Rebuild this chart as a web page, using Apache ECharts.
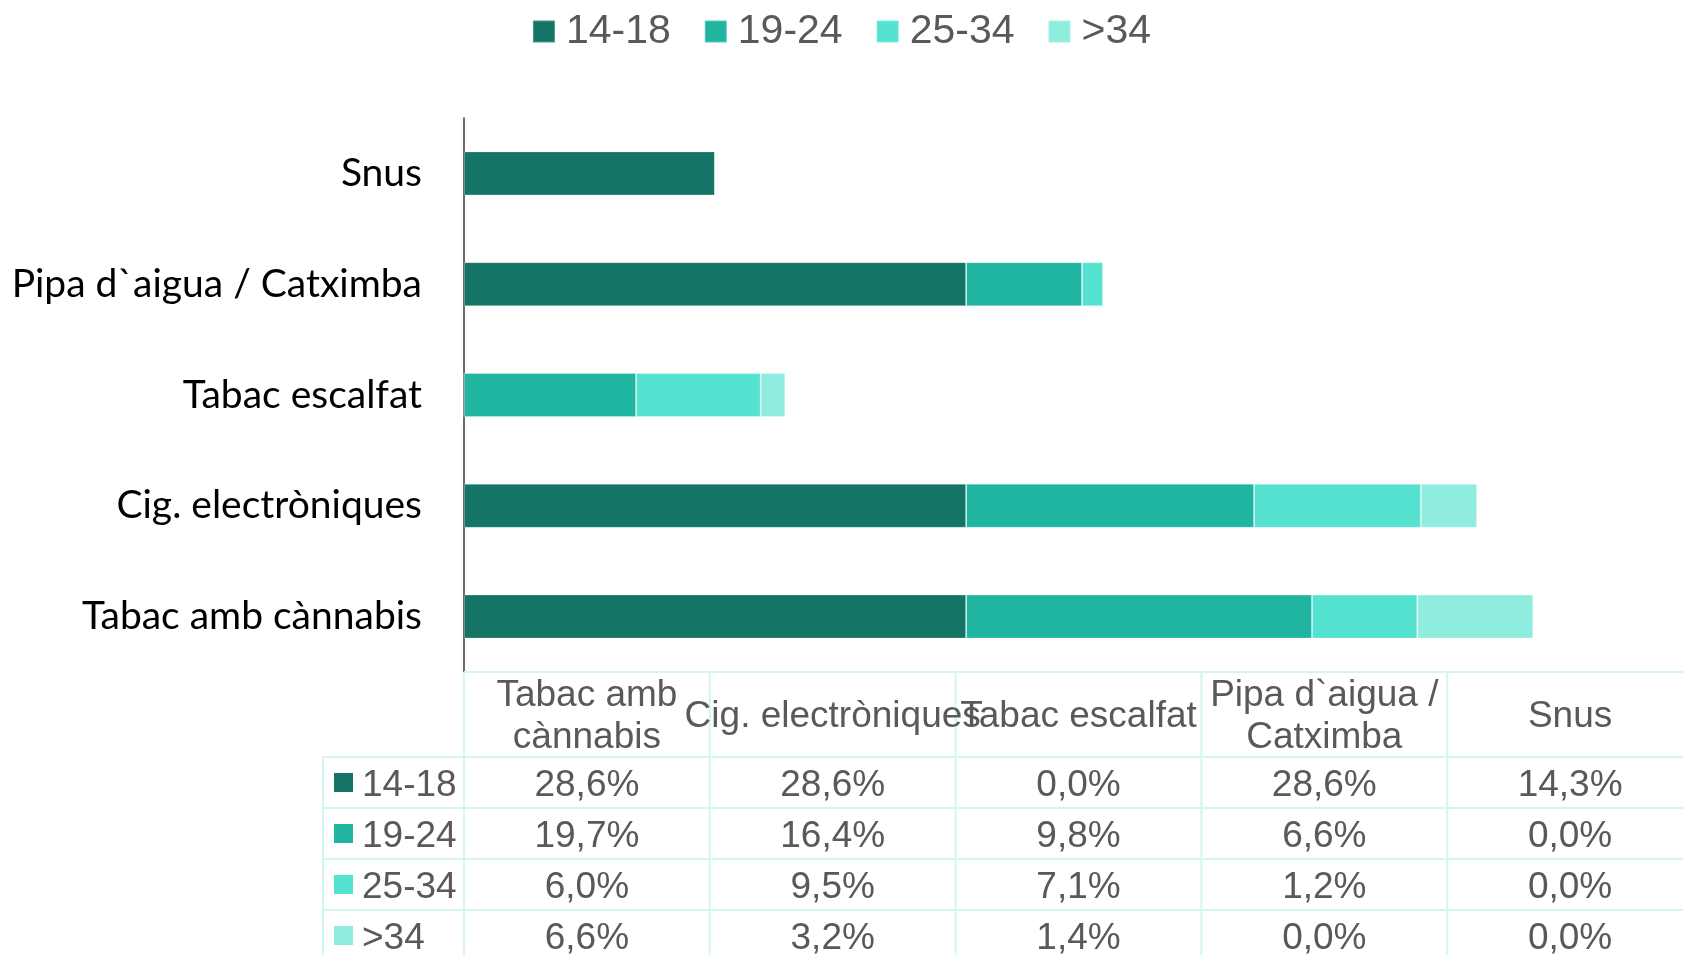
<!DOCTYPE html>
<html>
<head>
<meta charset="utf-8">
<script src="https://cdn.jsdelivr.net/npm/echarts@6/dist/echarts.min.js"></script>
<style>
html,body{margin:0;padding:0;background:#fff;}
#main{width:1683px;height:955px;}
</style>
</head>
<body>
<div id="main"></div>
<script>
// Data
const categories = ['Tabac amb cànnabis', 'Cig. electròniques', 'Tabac escalfat', 'Pipa d`aigua / Catximba', 'Snus'];
const tableHeaders = [['Tabac amb', 'cànnabis'], ['Cig. electròniques'], ['Tabac escalfat'], ['Pipa d`aigua /', 'Catximba'], ['Snus']];
const seriesNames = ['14-18', '19-24', '25-34', '>34'];
const v1418 = [28.6, 28.6, 0.0, 28.6, 14.3];
const v1924 = [19.7, 16.4, 9.8, 6.6, 0.0];
const v2534 = [6.0, 9.5, 7.1, 1.2, 0.0];
const v34 = [6.6, 3.2, 1.4, 0.0, 0.0];
const seriesValues = [v1418, v1924, v2534, v34];
const colors = ['#147466', '#20B5A1', '#56E2D0', '#8FEDDF'];

// Layout
const GL = 464, GT = 118, GW = 1229, GH = 554;
const XMAX = 70;
const colW = GW / categories.length;
const tableLeft = 323;
const headerTop = GT + GH;      // 672
const headerH = 85;
const rowH = 51;
const borderColor = '#D3F6F0';
const textColor = '#595959';
const tableFont = 'Liberation Sans, Arial, sans-serif';

const chart = echarts.init(document.getElementById('main'));

const graphics = [];
const dataTop = headerTop + headerH;
const nRows = seriesNames.length;
// horizontal lines
graphics.push({type:'line', shape:{x1:GL, y1:headerTop, x2:1683, y2:headerTop}, style:{stroke:borderColor, lineWidth:2}, z:10});
for (let r = 0; r <= nRows; r++) {
  const y = dataTop + r * rowH;
  graphics.push({type:'line', shape:{x1:tableLeft, y1:y, x2:1683, y2:y}, style:{stroke:borderColor, lineWidth:2}, z:10});
}
// vertical lines
graphics.push({type:'line', shape:{x1:tableLeft, y1:dataTop, x2:tableLeft, y2:dataTop + nRows*rowH}, style:{stroke:borderColor, lineWidth:2}, z:10});
for (let c = 0; c <= categories.length; c++) {
  const x = GL + c * colW;
  graphics.push({type:'line', shape:{x1:x, y1:headerTop, x2:x, y2:dataTop + nRows*rowH}, style:{stroke:borderColor, lineWidth:2}, z:10});
}
// headers
tableHeaders.forEach((lines, c) => {
  const cx = GL + (c + 0.5) * colW;
  const cy = headerTop + headerH / 2 + 2;
  const lh = 42;
  lines.forEach((t, i) => {
    const y = cy + (i - (lines.length - 1) / 2) * lh;
    graphics.push({type:'text', x:cx, y:y, style:{text:t, fill:textColor, font:'37px ' + tableFont, textAlign:'center', textVerticalAlign:'middle'}, z:11});
  });
});
// rows
seriesNames.forEach((name, r) => {
  const cy = dataTop + (r + 0.5) * rowH;
  graphics.push({type:'rect', shape:{x:334, y:cy - 9.5, width:19, height:19}, style:{fill:colors[r]}, z:11});
  graphics.push({type:'text', x:362, y:cy + 3, style:{text:name, fill:textColor, font:'37px ' + tableFont, textAlign:'left', textVerticalAlign:'middle'}, z:11});
  seriesValues[r].forEach((v, c) => {
    const cx = GL + (c + 0.5) * colW;
    graphics.push({type:'text', x:cx, y:cy + 3, style:{text:v.toFixed(1).replace('.', ',') + '%', fill:textColor, font:'37px ' + tableFont, textAlign:'center', textVerticalAlign:'middle'}, z:11});
  });
});

chart.setOption({
  animation: false,
  backgroundColor: '#fff',
  legend: {
    data: seriesNames,
    top: 6,
    left: 'center',
    itemWidth: 22,
    itemHeight: 22,
    itemGap: 33,
    icon: 'rect',
    textStyle: {fontSize: 41, color: textColor, fontFamily: tableFont, padding: [0, 0, 0, 6]}
  },
  grid: {left: GL, top: GT, width: GW, height: GH, containLabel: false, outerBoundsMode: 'none'},
  xAxis: {
    type: 'value', min: 0, max: XMAX,
    axisLine: {show: false}, axisTick: {show: false}, axisLabel: {show: false}, splitLine: {show: false}
  },
  yAxis: {
    type: 'category', data: categories,
    axisLine: {show: true, lineStyle: {color: '#3a3a3a', width: 1.5}},
    axisTick: {show: false},
    axisLabel: {fontSize: 39, color: '#000', fontFamily: 'Lato, Carlito, sans-serif', margin: 42}
  },
  series: seriesNames.map((n, i) => ({
    name: n, type: 'bar', stack: 'total', barWidth: 44,
    data: seriesValues[i],
    itemStyle: {color: colors[i], borderColor: 'rgba(255,255,255,0.25)', borderWidth: 1}
  })),
  graphic: graphics
});
</script>
</body>
</html>
